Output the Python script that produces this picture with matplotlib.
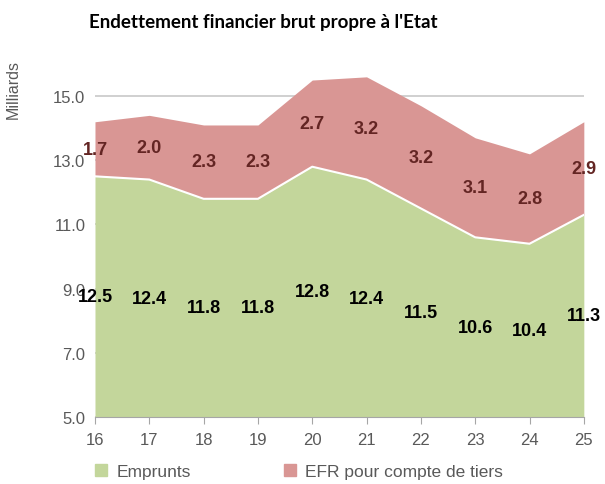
import numpy as np
import matplotlib as mpl
import matplotlib.pyplot as plt

mpl.use("agg")

years = [16, 17, 18, 19, 20, 21, 22, 23, 24, 25]
emprunts = [12.5, 12.4, 11.8, 11.8, 12.8, 12.4, 11.5, 10.6, 10.4, 11.3]
efr = [1.7, 2.0, 2.3, 2.3, 2.7, 3.2, 3.2, 3.1, 2.8, 2.9]
yticks = [5.0, 7.0, 9.0, 11.0, 13.0, 15.0]

green = "#C3D69B"
red = "#D99694"
gray = "#595959"

plt.rcParams["font.family"] = ["Liberation Sans", "DejaVu Sans"]

fig = plt.figure(figsize=(6.05, 4.85), dpi=100)
ax = fig.add_axes([0.157, 0.138, 0.808, 0.728])

x = np.array(years)
e = np.array(emprunts)
f = np.array(efr)
ymin = 5.0

ax.fill_between(x, ymin, e, color=green, lw=0, zorder=2)
ax.fill_between(x, e, e + f, color=red, lw=0, zorder=2)
ax.plot(x, e, color="white", lw=1.5, zorder=3)

# labels sit in the middle of each band
for xi, ei, fi in zip(x, e, f):
    ax.text(xi, (ymin + ei) / 2, f"{ei:.1f}", ha="center", va="center",
            fontsize=13, fontweight="bold", color="black", zorder=4)
    ax.text(xi, ei + fi / 2, f"{fi:.1f}", ha="center", va="center",
            fontsize=13, fontweight="bold", color="#632523", zorder=4)

ax.set_xlim(16, 25)
ax.set_ylim(ymin, 16)
ax.set_xticks(years)
ax.set_yticks(yticks)
ax.set_yticklabels([f"{v:.1f}" for v in yticks])
ax.tick_params(axis="y", length=0, labelsize=12, labelcolor=gray, pad=7)
ax.tick_params(axis="x", length=5, color="#A6A6A6", labelsize=12,
               labelcolor=gray, pad=6)
ax.grid(axis="y", color="#C8C8C8", lw=1.2, zorder=0)
for s in ["top", "right", "left"]:
    ax.spines[s].set_visible(False)
ax.spines["bottom"].set_color("#A6A6A6")
ax.spines["bottom"].set_zorder(5)

fig.text(0.435, 0.953, "Endettement financier brut propre à l'Etat",
         ha="center", va="center", fontsize=13.5, fontweight="bold",
         family=["Lato", "DejaVu Sans"])
fig.text(0.022, 0.815, "Milliards", rotation=90, ha="center", va="center",
         fontsize=11.5, color=gray)

h1 = plt.Line2D([], [], marker="s", ls="", color=green, markersize=8)
h2 = plt.Line2D([], [], marker="s", ls="", color=red, markersize=8)
fig.legend([h1, h2], ["Emprunts", "EFR pour compte de tiers"],
           loc="center", bbox_to_anchor=(0.485, 0.025), ncol=2, frameon=False,
           fontsize=12.5, labelcolor=gray, handletextpad=-0.1,
           columnspacing=4.7)

fig.savefig("out.png", dpi=100)
